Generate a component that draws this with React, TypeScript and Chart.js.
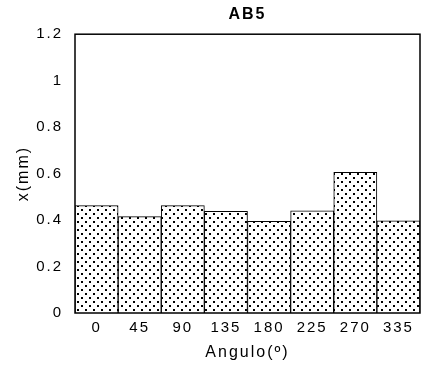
import React, { useEffect, useRef } from "react";
import { Chart, registerables } from "chart.js";

Chart.register(...registerables);

const categories = ["0", "45", "90", "135", "180", "225", "270", "335"];
const values = [0.462, 0.415, 0.462, 0.438, 0.395, 0.44, 0.606, 0.397];
const yTickLabels = ["0", "0.2", "0.4", "0.6", "0.8", "1", "1.2"];
const chartTitle = "AB5";
const xTitle = "Angulo(º)";
const yTitle = "x(mm)";

function makeDotPattern(): CanvasPattern | string {
  const c = document.createElement("canvas");
  c.width = 8;
  c.height = 8;
  const g = c.getContext("2d");
  if (!g) return "#fff";
  g.fillStyle = "#fff";
  g.fillRect(0, 0, 8, 8);
  g.fillStyle = "#000";
  g.fillRect(1, 1, 2, 2);
  g.fillRect(5, 5, 2, 2);
  const p = g.createPattern(c, "repeat");
  return p || "#fff";
}

const framePlugin = {
  id: "frame",
  beforeDraw(chart: any) {
    const ctx = chart.ctx;
    (ctx as any).letterSpacing = "2px";
  },
  afterDatasetsDraw(chart: any) {
    const { ctx, chartArea } = chart;
    ctx.save();
    ctx.strokeStyle = "#000";
    ctx.lineWidth = 1.5;
    ctx.strokeRect(chartArea.left, chartArea.top, chartArea.right - chartArea.left, chartArea.bottom - chartArea.top);
    ctx.restore();
  },
};

export default function App() {
  const ref = useRef<HTMLCanvasElement>(null);
  useEffect(() => {
    if (!ref.current) return;
    const font = "'Liberation Sans', Arial, Helvetica, sans-serif";
    const chart = new Chart(ref.current, {
      type: "bar",
      data: {
        labels: categories,
        datasets: [
          {
            data: values,
            backgroundColor: makeDotPattern() as any,
            borderColor: "#000",
            borderWidth: 1,
            categoryPercentage: 1,
            barPercentage: 1,
          },
        ],
      },
      options: {
        responsive: false,
        animation: false,
        layout: { padding: { left: 0, right: 1, top: 4, bottom: 0 } },
        plugins: {
          legend: { display: false },
          tooltip: { enabled: false },
          title: {
            display: true,
            text: chartTitle,
            fullSize: false,
            color: "#000",
            font: { family: font, size: 16, weight: "bold" },
            padding: { top: 1, bottom: 10 },
          },
        },
        scales: {
          x: {
            grid: { display: false, drawTicks: false },
            border: { display: false },
            ticks: { color: "#000", font: { family: font, size: 15 }, padding: 6, maxRotation: 0 },
            title: {
              display: true,
              text: xTitle,
              color: "#000",
              font: { family: font, size: 16 },
              padding: { top: 0, bottom: 7 },
            },
            afterFit: (s: any) => {
              s.height = 56;
            },
          },
          y: {
            min: 0,
            max: 1.2,
            grid: { display: false, drawTicks: false },
            border: { display: false },
            ticks: {
              stepSize: 0.2,
              color: "#000",
              font: { family: font, size: 15 },
              padding: 12,
              callback: (v: any) => yTickLabels[Math.round(Number(v) / 0.2)] ?? "",
            },
            title: {
              display: true,
              text: yTitle,
              color: "#000",
              font: { family: font, size: 16 },
              padding: { top: 14, bottom: 0 },
            },
            afterFit: (s: any) => {
              s.width = 75;
            },
          },
        },
      },
      plugins: [framePlugin],
    });
    return () => chart.destroy();
  }, []);
  return (
    <div style={{ position: "fixed", left: 0, top: 0, width: 421, height: 369, background: "#fff" }}>
      <canvas ref={ref} width={421} height={369} style={{ display: "block" }} />
    </div>
  );
}
